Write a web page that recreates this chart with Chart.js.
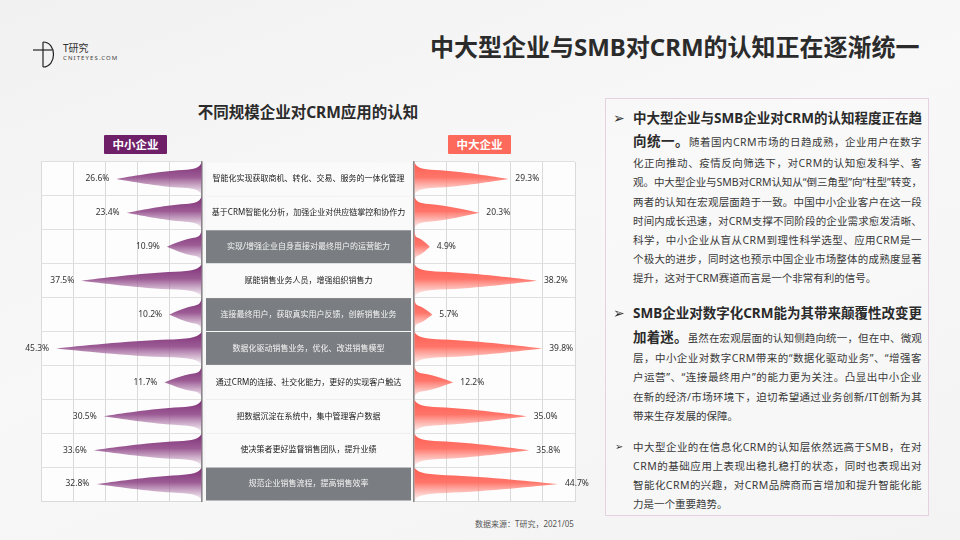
<!DOCTYPE html>
<html>
<head>
<meta charset="utf-8">
<script src="https://cdn.jsdelivr.net/npm/chart.js@4.4.1/dist/chart.umd.min.js"></script>
<style>
body { margin: 0; width: 960px; height: 540px; overflow: hidden; position: relative;
  background: linear-gradient(160deg, #f1f1f1 0%, #f8f8f8 45%, #f3f3f3 100%);
  font-family: "Noto Sans", "Noto Sans CJK SC", sans-serif; color: #333; }
.abs { position: absolute; }
#title { left: 430px; top: 30px; font-size: 24px; font-weight: bold; color: #2b2b2b; white-space: nowrap; line-height: 34px; }
#logo-t { left: 63px; top: 41px; font-size: 10px; color: #333; line-height: 14px; }
#logo-u { left: 63px; top: 54px; font-size: 6px; letter-spacing: 1.1px; color: #444; line-height: 8px; }
#subtitle { left: 150px; width: 316px; top: 100px; text-align: center; font-size: 15.5px; font-weight: bold; color: #2b2b2b; line-height: 24px; }
.pill { top: 135px; height: 19px; line-height: 19px; width: 63px; text-align: center; color: #fff; font-size: 11.5px; font-weight: bold; border-radius: 1px; }
#pill-l { left: 104px; background: #6e1f68; }
#pill-r { left: 448px; background: #fd6a5c; }
#source { left: 475px; top: 517px; font-size: 8px; color: #555; line-height: 14px; }
#panel { left: 605px; top: 98px; width: 324px; height: 418px; border: 1px solid #e4d2e0; box-sizing: border-box; background: rgba(250,250,250,0.5); }
.ln { position: absolute; left: 633px; height: 20px; line-height: 20px; white-space: nowrap; font-size: 10.5px; color: #3a3a3a; }
.ln b { font-size: 13.5px; color: #2a2a2a; }
.bul { position: absolute; font-family: "DejaVu Sans"; color: #333; line-height: 20px; }
canvas { position: absolute; }
</style>
</head>
<body>
<svg class="abs" style="left:28px;top:37px" width="32" height="34" viewBox="0 0 32 34">
  <path d="M15 5 L15 30" stroke="#222" stroke-width="1.2" fill="none"/>
  <path d="M15 5 C29 5 29 30 15 30" stroke="#222" stroke-width="1.2" fill="none"/>
  <path d="M5 13 L24 13" stroke="#222" stroke-width="1.2"/>
</svg>
<div id="logo-t" class="abs">T研究</div>
<div id="logo-u" class="abs">CNITEYES.COM</div>
<div id="title" class="abs">中大型企业与SMB对CRM的认知正在逐渐统一</div>
<div id="subtitle" class="abs">不同规模企业对CRM应用的认知</div>
<div id="pill-l" class="abs pill">中小企业</div>
<div id="pill-r" class="abs pill">中大企业</div>
<div id="source" class="abs">数据来源：T研究，2021/05</div>
<div id="panel" class="abs"></div>

<canvas id="leftChart" width="420" height="370" style="left:0;top:150px"></canvas>
<canvas id="rightChart" width="200" height="370" style="left:405px;top:150px"></canvas>

<div id="text"></div>

<script>
// 数据
const categories = [
  '智能化实现获取商机、转化、交易、服务的一体化管理',
  '基于CRM智能化分析，加强企业对供应链掌控和协作力',
  '实现/增强企业自身直接对最终用户的运营能力',
  '赋能销售业务人员，增强组织销售力',
  '连接最终用户，获取真实用户反馈，创新销售业务',
  '数据化驱动销售业务，优化、改进销售模型',
  '通过CRM的连接、社交化能力，更好的实现客户触达',
  '把数据沉淀在系统中，集中管理客户数据',
  '使决策者更好监督销售团队，提升业绩',
  '规范企业销售流程，提高销售效率'
];
const smbShare = [26.6, 23.4, 10.9, 37.5, 10.2, 45.3, 11.7, 30.5, 33.6, 32.8];
const largeShare = [29.3, 20.3, 4.9, 38.2, 5.7, 39.8, 12.2, 35.0, 35.8, 44.7];
const highlighted = [2, 4, 5, 9];
const shareMin = 0;
const shareMax = 50;
const shareStep = 10;

// 牛角形状
function hornPath(ctx, base, tip, cy, h) {
  const L = tip - base;
  const top = cy - h / 2, bot = cy + h / 2;
  ctx.beginPath();
  ctx.moveTo(base, top);
  ctx.bezierCurveTo(base + 0.02 * L, cy - 0.34 * h, base + 0.08 * L, cy - 0.29 * h, base + 0.22 * L, cy - 0.27 * h);
  ctx.bezierCurveTo(base + 0.52 * L, cy - 0.227 * h, base + 0.85 * L, cy - 0.06 * h, tip, cy);
  ctx.bezierCurveTo(base + 0.85 * L, cy + 0.06 * h, base + 0.52 * L, cy + 0.227 * h, base + 0.22 * L, cy + 0.27 * h);
  ctx.bezierCurveTo(base + 0.08 * L, cy + 0.29 * h, base + 0.02 * L, cy + 0.34 * h, base, bot);
  ctx.closePath();
}

const hornPlugin = {
  id: 'horn',
  afterDatasetsDraw(chart, args, opts) {
    const ctx = chart.ctx;
    const meta = chart.getDatasetMeta(0);
    const values = chart.data.datasets[0].data;
    meta.data.forEach((bar, i) => {
      const p = bar.getProps(['x', 'y', 'base', 'height'], true);
      const h = p.height - 1;
      const g = ctx.createLinearGradient(0, p.y - h / 2, 0, p.y + h / 2);
      g.addColorStop(0, opts.c0);
      g.addColorStop(0.45, opts.c1);
      g.addColorStop(1, opts.c2);
      ctx.save();
      ctx.fillStyle = g;
      hornPath(ctx, p.base, p.x, p.y, h);
      ctx.fill();
      ctx.restore();
      const left = p.x < p.base;
      ctx.save();
      ctx.fillStyle = '#333';
      ctx.font = '8.5px "Noto Sans"';
      ctx.textBaseline = 'middle';
      ctx.textAlign = left ? 'right' : 'left';
      ctx.fillText(values[i].toFixed(1) + '%', p.x + (left ? -7 : 7), p.y);
      ctx.restore();
    });
  }
};

const areaBg = {
  id: 'areaBg',
  beforeDraw(chart) {
    const a = chart.chartArea;
    chart.ctx.save();
    chart.ctx.fillStyle = '#fdfdfd';
    chart.ctx.fillRect(a.left, a.top, a.right - a.left, a.bottom - a.top);
    chart.ctx.restore();
  }
};

// 中间的类别列
const middleColumn = {
  id: 'middleColumn',
  afterDraw(chart) {
    const ctx = chart.ctx;
    const ys = chart.scales.y;
    const rowH = (chart.chartArea.bottom - chart.chartArea.top) / categories.length;
    const x0 = 206, x1 = 411;
    categories.forEach((c, i) => {
      const cy = ys.getPixelForValue(i);
      const top = cy - rowH / 2, bot = cy + rowH / 2;
      const hi = highlighted.includes(i);
      ctx.save();
      ctx.fillStyle = hi ? '#7a7d81' : '#fafafa';
      ctx.fillRect(x0, top + 0.5, x1 - x0, rowH - 1);
      if (!hi) {
        ctx.strokeStyle = '#ebebeb';
        ctx.lineWidth = 1;
        ctx.beginPath();
        ctx.moveTo(x0, Math.round(bot) + 0.5);
        ctx.lineTo(x1, Math.round(bot) + 0.5);
        ctx.stroke();
      }
      ctx.fillStyle = hi ? '#f4f4f4' : '#1a1a1a';
      ctx.font = '8px "Noto Sans", "Noto Sans CJK SC"';
      ctx.textAlign = 'center';
      ctx.textBaseline = 'middle';
      ctx.fillText(c, (x0 + x1) / 2, cy);
      ctx.restore();
    });
  }
};

function makeOptions(reverse, pad, hornColors) {
  return {
    indexAxis: 'y',
    responsive: false,
    animation: false,
    layout: { padding: pad },
    plugins: { legend: { display: false }, tooltip: { enabled: false }, horn: hornColors },
    scales: {
      x: {
        type: 'linear', reverse: reverse, min: shareMin, max: shareMax,
        ticks: { display: false, stepSize: shareStep },
        grid: { color: '#dadada', lineWidth: 1, drawTicks: false },
        border: { color: '#dadada' }
      },
      y: {
        type: 'category', position: reverse ? 'right' : 'left',
        ticks: { display: false },
        grid: { color: '#e0e0e0', lineWidth: 1, drawTicks: false, offset: true },
        border: { color: '#8a8a8a', width: 1.5 }
      }
    }
  };
}

new Chart(document.getElementById('leftChart'), {
  type: 'bar',
  data: {
    labels: categories,
    datasets: [{ label: '中小企业', data: smbShare, backgroundColor: 'rgba(0,0,0,0)', barPercentage: 1, categoryPercentage: 1 }]
  },
  options: makeOptions(true, { left: 41, right: 218, top: 12, bottom: 19 },
    { c0: 'rgba(126,46,118,1)', c1: 'rgba(148,78,140,0.92)', c2: 'rgba(170,115,165,0.06)' }),
  plugins: [areaBg, hornPlugin, middleColumn]
});

new Chart(document.getElementById('rightChart'), {
  type: 'bar',
  data: {
    labels: categories,
    datasets: [{ label: '中大企业', data: largeShare, backgroundColor: 'rgba(0,0,0,0)', barPercentage: 1, categoryPercentage: 1 }]
  },
  options: makeOptions(false, { left: 9, right: 30, top: 12, bottom: 19 },
    { c0: 'rgba(255,94,82,1)', c1: 'rgba(255,106,94,0.93)', c2: 'rgba(255,135,125,0.06)' }),
  plugins: [areaBg, hornPlugin]
});

// 右侧说明文字
const lines = [
  [118, '<b>中大型企业与SMB企业对CRM的认知程度正在趋</b>', true],
  [141, '<b>向统一。</b>随着国内CRM市场的日趋成熟，企业用户在数字', true],
  [163, '化正向推动、疫情反向筛选下，对CRM的认知愈发科学、客', true],
  [182, '观。中大型企业与SMB对CRM认知从“倒三角型”向“柱型”转变，', true],
  [201.5, '两者的认知在宏观层面趋于一致。中国中小企业客户在这一段', true],
  [221, '时间内成长迅速，对CRM支撑不同阶段的企业需求愈发清晰、', true],
  [240, '科学，中小企业从盲从CRM到理性科学选型、应用CRM是一', true],
  [259, '个极大的进步，同时这也预示中国企业市场整体的成熟度显著', true],
  [278, '提升，这对于CRM赛道而言是一个非常有利的信号。', false],
  [312.5, '<b>SMB企业对数字化CRM能为其带来颠覆性改变更</b>', true],
  [336.5, '<b>加着迷。</b>虽然在宏观层面的认知侧趋向统一，但在中、微观', true],
  [358, '层，中小企业对数字CRM带来的“数据化驱动业务”、“增强客', true],
  [377, '户运营”、“连接最终用户”的能力更为关注。凸显出中小企业', true],
  [396.5, '在新的经济/市场环境下，迫切希望通过业务创新/IT创新为其', true],
  [416, '带来生存发展的保障。', false],
  [446.5, '中大型企业的在信息化CRM的认知层依然远高于SMB，在对', true],
  [466, 'CRM的基础应用上表现出稳扎稳打的状态，同时也表现出对', true],
  [485, '智能化CRM的兴趣，对CRM品牌商而言增加和提升智能化能', true],
  [504, '力是一个重要趋势。', false]
];
const textBox = document.getElementById('text');
const lineWidth = 289;
lines.forEach(([y, html, justify]) => {
  const d = document.createElement('div');
  d.className = 'ln';
  d.style.top = (y - 10) + 'px';
  const s = document.createElement('span');
  s.innerHTML = html;
  d.appendChild(s);
  textBox.appendChild(d);
  if (justify) {
    const w = s.getBoundingClientRect().width;
    const n = s.textContent.length;
    s.style.letterSpacing = ((lineWidth - w) / n) + 'px';
  }
});
[[118, 14, 613], [312.5, 14, 613], [446.5, 10, 615]].forEach(([y, size, x]) => {
  const b = document.createElement('div');
  b.className = 'bul';
  b.style.left = x + 'px';
  b.style.top = (y - 10) + 'px';
  b.style.fontSize = size + 'px';
  b.textContent = '➢';
  textBox.appendChild(b);
});
</script>
</body>
</html>
